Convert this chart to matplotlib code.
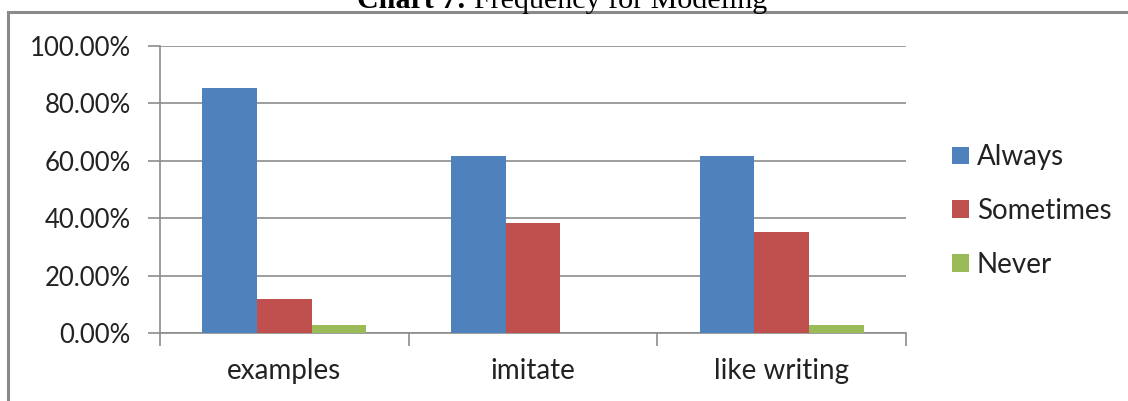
import matplotlib.pyplot as plt
import numpy as np
from matplotlib.patches import Rectangle

categories = ["examples", "imitate", "like writing"]
series = ["Always", "Sometimes", "Never"]
always = [85.29, 61.76, 61.76]
sometimes = [11.76, 38.24, 35.29]
never = [2.94, 0.0, 2.94]
colors = ["#4F81BD", "#C0504D", "#9BBB59"]
yticks = [0, 20, 40, 60, 80, 100]

plt.rcParams['font.family'] = ['Lato', 'DejaVu Sans']

fig = plt.figure(figsize=(11.28, 4.01), dpi=100)
ax = fig.add_axes([160/1128, 68/401, 746/1128, 287/401])

x = np.arange(len(categories))
w = 0.22
for i, (vals, name) in enumerate(zip([always, sometimes, never], series)):
    ax.bar(x + (i - 1) * w, vals, w, color=colors[i], label=name, zorder=3)

ax.set_xlim(-0.5, len(categories) - 0.5)
ax.set_ylim(0, 100)
ax.set_yticks(yticks)
ax.set_yticklabels(["%.2f%%" % v for v in yticks], fontsize=18.5, color="#222222")
ax.yaxis.grid(True, color="#8c8c8c", linewidth=1.2, zorder=0)

# category labels centred, tick marks on the boundaries
ax.set_xticks(x)
ax.set_xticklabels(categories, fontsize=20, color="#222222")
ax.tick_params(axis="x", length=0, pad=18)
ax.set_xticks(np.arange(len(categories) + 1) - 0.5, minor=True)
ax.tick_params(axis="x", which="minor", length=9, width=1.2, color="#8c8c8c")
ax.tick_params(axis="y", length=9, width=1.2, color="#8c8c8c", pad=12)

for s in ["top", "right"]:
    ax.spines[s].set_visible(False)
for s in ["left", "bottom"]:
    ax.spines[s].set_color("#8c8c8c")
    ax.spines[s].set_linewidth(1.2)

leg = ax.legend(loc="center left", bbox_to_anchor=(1.028, 0.425), frameon=False,
                fontsize=20, handlelength=0.6, handleheight=0.6,
                handletextpad=0.3, labelspacing=1.0)
for t in leg.get_texts():
    t.set_color("#222222")

# outer chart frame
fig.patches.append(Rectangle((8/1128, -0.1), 1.2, 1 - 12/401 + 0.1,
                             transform=fig.transFigure, fill=False,
                             edgecolor="#8a8a8a", linewidth=2.2))

fig.text(474/1128, 1 - 8/401, "Chart 7: ", fontsize=21.6, fontweight="bold",
         family="Liberation Serif", ha="right", va="baseline")
fig.text(474/1128, 1 - 8/401, "Frequency for Modeling", fontsize=21.6,
         family="Liberation Serif", ha="left", va="baseline")

fig.savefig("out.png", dpi=100)
